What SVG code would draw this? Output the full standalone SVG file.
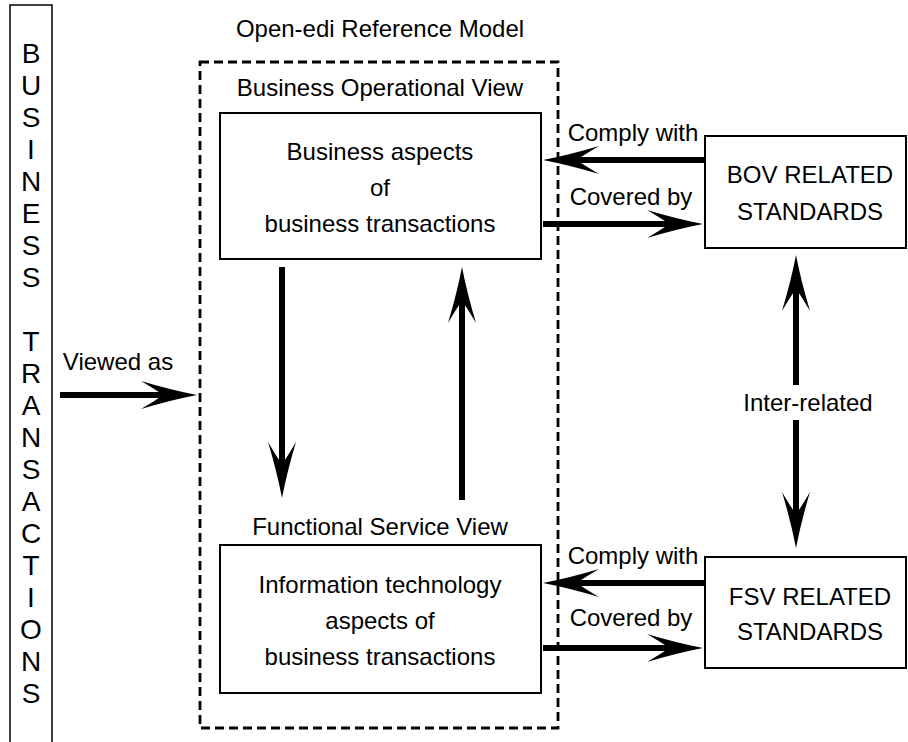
<svg xmlns="http://www.w3.org/2000/svg" width="908" height="742" viewBox="0 0 908 742">
<style>
text{font-family:"Liberation Sans",Arial,sans-serif;font-size:24px;fill:#000}
.c{text-anchor:middle}
.v{font-size:28px;text-anchor:middle}
.box{fill:#fff;stroke:#000;stroke-width:2}
.conn{fill:none;stroke:#000;stroke-width:6;marker-end:url(#ah)}
</style>
<defs>
<marker id="ah" viewBox="0 0 56 28" refX="26" refY="14" markerWidth="56" markerHeight="28" markerUnits="userSpaceOnUse" orient="auto">
<path d="M56,14 Q30,9 0,0 Q17,10 22,14 Q17,18 0,28 Q30,19 56,14 Z" fill="#000"/>
</marker>
</defs>
<rect width="908" height="742" fill="#fff"/>
<g id="business-transactions">
<path d="M10,750 V5 H52 V750" fill="none" stroke="#000" stroke-width="1.5"/>
<text class="v" x="31" y="63"><tspan x="31" y="63">B</tspan><tspan x="31" y="95">U</tspan><tspan x="31" y="127">S</tspan><tspan x="31" y="159">I</tspan><tspan x="31" y="191">N</tspan><tspan x="31" y="223">E</tspan><tspan x="31" y="255">S</tspan><tspan x="31" y="287">S</tspan><tspan x="31" y="351">T</tspan><tspan x="31" y="383">R</tspan><tspan x="31" y="415">A</tspan><tspan x="31" y="447">N</tspan><tspan x="31" y="479">S</tspan><tspan x="31" y="511">A</tspan><tspan x="31" y="543">C</tspan><tspan x="31" y="575">T</tspan><tspan x="31" y="607">I</tspan><tspan x="31" y="639">O</tspan><tspan x="31" y="671">N</tspan><tspan x="31" y="703">S</tspan></text>
</g>
<g id="open-edi-reference-model">
<text class="c" x="380" y="37">Open-edi Reference Model</text>
<rect x="200" y="62" width="358" height="666" fill="none" stroke="#000" stroke-width="2.8" stroke-dasharray="9,5"/>
<text class="c" x="380" y="96">Business Operational View</text>
<text class="c" x="380" y="535">Functional Service View</text>
</g>
<g id="bov">
<rect class="box" x="220" y="113" width="321" height="146"/>
<text class="c" x="380" y="160">Business aspects</text>
<text class="c" x="380" y="196">of</text>
<text class="c" x="380" y="232">business transactions</text>
</g>
<g id="fsv">
<rect class="box" x="220" y="545" width="321" height="148"/>
<text class="c" x="380" y="593">Information technology</text>
<text class="c" x="380" y="629">aspects of</text>
<text class="c" x="380" y="665">business transactions</text>
</g>
<g id="bov-standards">
<rect class="box" x="705" y="136" width="201" height="112"/>
<text class="c" x="810" y="183">BOV RELATED</text>
<text class="c" x="810" y="220">STANDARDS</text>
</g>
<g id="fsv-standards">
<rect class="box" x="705" y="557" width="201" height="111"/>
<text class="c" x="810" y="605">FSV RELATED</text>
<text class="c" x="810" y="640">STANDARDS</text>
</g>
<g id="connectors">
<path class="conn" d="M60,395 H167"/>
<path class="conn" d="M282,267 V468"/>
<path class="conn" d="M462,500 V297"/>
<path class="conn" d="M705,160 H573"/>
<path class="conn" d="M543,224 H673"/>
<path class="conn" d="M705,583 H573"/>
<path class="conn" d="M543,648 H673"/>
<path class="conn" d="M796,385 V285"/>
<path class="conn" d="M796,420 V518"/>
<text class="c" x="118" y="370">Viewed as</text>
<text class="c" x="633" y="141">Comply with</text>
<text class="c" x="631" y="205">Covered by</text>
<text class="c" x="633" y="564">Comply with</text>
<text class="c" x="631" y="626">Covered by</text>
<text class="c" x="808" y="411">Inter-related</text>
</g>
</svg>
